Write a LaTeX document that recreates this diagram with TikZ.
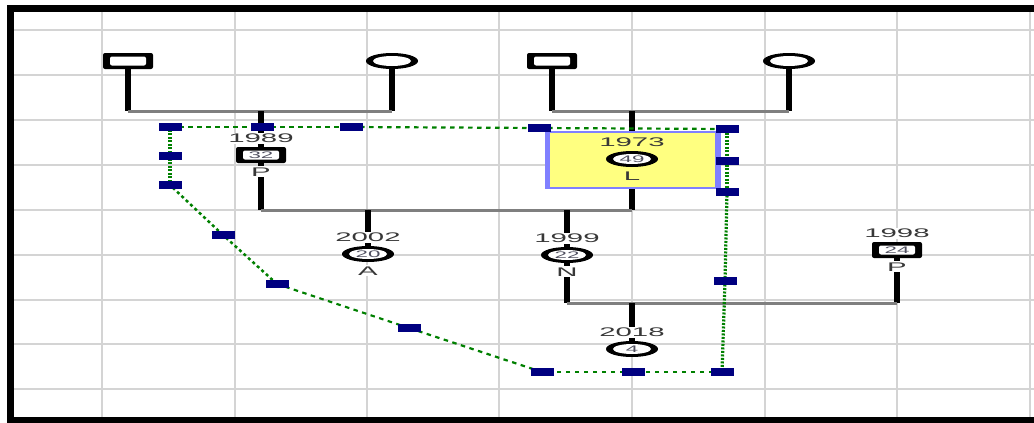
\documentclass[tikz,border=0pt]{standalone}
\usepackage{fontspec}
\setmainfont{Liberation Sans}
\newfontfamily\anchafont[FakeStretch=2.35]{Liberation Sans}
\usetikzlibrary{shapes.geometric, positioning, backgrounds}
\definecolor{GridGray}{HTML}{D4D4D4}
\definecolor{LineGray}{HTML}{7F7F7F}
\definecolor{SelGreen}{HTML}{008000}
\definecolor{HandleNavy}{HTML}{000080}
\definecolor{BoxYellow}{HTML}{FFFF80}
\definecolor{BoxBlue}{HTML}{8080FF}
\definecolor{LabelGray}{HTML}{383838}
\definecolor{NumGray}{HTML}{505060}

\begin{document}
\begin{tikzpicture}[
        x=1pt, y=-1pt,
        % Estilos para símbolos
        varon/.style={
                rectangle,
                rounded corners=2pt,
                fill=black,
                minimum width=50pt,
                minimum height=16pt,
                inner sep=0pt,
                font=\anchafont\fontsize{9.5}{10}\selectfont,
                text=NumGray,
                path picture={
                        \fill[white] ([xshift=7pt, yshift=3.5pt]path picture bounding box.south west)
                            rectangle ([xshift=-7pt, yshift=-3.5pt]path picture bounding box.north east);
                    }
            },
        mujer/.style={
                ellipse,
                fill=black,
                minimum width=52pt,
                minimum height=16pt,
                inner sep=0pt,
                font=\anchafont\fontsize{9.5}{10}\selectfont,
                text=NumGray,
                path picture={
                        \fill[white] (path picture bounding box.center) ellipse [x radius=19pt, y radius=5pt];
                    }
            },
        % Etiquetas
        anio/.style={
                font=\anchafont\fontsize{12.5}{14}\selectfont,
                text=LabelGray,
                fill=white,
                inner sep=1pt
            },
        % Caja resaltada
        resalte/.style={
                rectangle,
                fill=BoxBlue,
                minimum width=176pt,
                minimum height=58pt,
                inner sep=0pt,
                path picture={
                        \fill[BoxYellow] ([xshift=5pt, yshift=2pt]path picture bounding box.south west)
                            rectangle ([xshift=-6pt, yshift=-2pt]path picture bounding box.north east);
                    }
            },
        % Líneas
        tallo/.style={black, line width=5.5pt},
        union/.style={LineGray, line width=3pt},
        rejilla/.style={GridGray, line width=2.5pt},
        rejillah/.style={GridGray, line width=1.5pt},
        % Selección
        asa/.style={rectangle, fill=HandleNavy, minimum width=23pt, minimum height=8pt, inner sep=0pt},
        selh/.style={SelGreen, line width=2.2pt, dash pattern=on 4.5pt off 4.5pt},
        selv/.style={SelGreen, line width=3.2pt, dash pattern=on 2pt off 1.5pt},
        seld/.style={SelGreen, line width=2.5pt, dash pattern=on 3pt off 3pt}
    ]

    \useasboundingbox (0,0) rectangle (1034,423);

    % Padres
    \node[varon] (padre1) at (128,61) {};
    \node[mujer] (madre1) at (392,61) {};
    \node[varon] (padre2) at (552,61) {};
    \node[mujer] (madre2) at (789,61) {};

    % Caja resaltada
    \node[resalte] (caja) at (633,160) {};

    % Hijos
    \node[varon] (s1989) at (261,155) {32};
    \node[anio, above=3pt of s1989] (y1989) {1989};
    \node[anio, below=3pt of s1989] (t1989) {P};

    \node[mujer] (s1973) at (632,159) {49};
    \node[anio, fill=none, above=3pt of s1973] (y1973) {1973};
    \node[anio, fill=none, below=3pt of s1973] (t1973) {L};

    \node[mujer] (s2002) at (368,254) {20};
    \node[anio, above=3pt of s2002] (y2002) {2002};
    \node[anio, below=3pt of s2002] (t2002) {A};

    \node[mujer] (s1999) at (567,255) {22};
    \node[anio, above=3pt of s1999] (y1999) {1999};
    \node[anio, below=3pt of s1999] (t1999) {N};

    \node[varon] (s1998) at (897,250) {24};
    \node[anio, above=3pt of s1998] (y1998) {1998};
    \node[anio, below=3pt of s1998] (t1998) {P};

    \node[mujer] (s2018) at (632,349) {4};
    \node[anio, above=3pt of s2018] (y2018) {2018};

    % Puntos de unión
    \coordinate (u1) at (261,111);
    \coordinate (u2) at (632,111);
    \coordinate (u3) at (632,210);
    \coordinate (u4) at (632,303);

    \begin{scope}[on background layer]
        % Marco y rejilla
        \fill[white] (0,0) rectangle (1034,423);
        \fill[black] (7,5) rectangle (1034,423);
        \fill[white] (14,12) rectangle (1034,417);
        \foreach \x in {102,235,367,499,632,765,897,1030}
            \draw[rejilla] (\x,12) -- (\x,417);
        \foreach \y in {30,75,120,165,210,255,300,344,389}
            \draw[rejillah] (14,\y) -- (1034,\y);

        % Uniones
        \draw[tallo] (padre1) -- (padre1 |- u1);
        \draw[tallo] (madre1) -- (madre1 |- u1);
        \draw[union] (padre1 |- u1) -- (madre1 |- u1);
        \draw[tallo] (padre2) -- (padre2 |- u2);
        \draw[tallo] (madre2) -- (madre2 |- u2);
        \draw[union] (padre2 |- u2) -- (madre2 |- u2);

        \draw[tallo] (u1) -- (s1989) -- (s1989 |- u3);
        \draw[tallo] (u2) -- (s1973) -- (u3);
        \draw[union] (s1989 |- u3) -- (u3);

        \draw[tallo] (s2002 |- u3) -- (s2002);
        \draw[tallo] (s1999 |- u3) -- (s1999) -- (s1999 |- u4);
        \draw[tallo] (s1998) -- (s1998 |- u4);
        \draw[union] (s1999 |- u4) -- (s1998 |- u4);
        \draw[tallo] (u4) -- (s2018);
    \end{scope}

    % Asas de selección
    \foreach \i/\px/\py in {1/170/127, 2/262/127, 3/351/127, 4/539/128,
            5/727/129, 6/727/161, 7/727/192, 8/725/281,
            9/722/372, 10/633/372, 11/542/372, 12/409/328,
            13/277/284, 14/223/235, 15/170/185, 16/170/156}
        \node[asa] (h\i) at (\px,\py) {};

    \begin{scope}[on background layer]
        \foreach \a/\b/\e in {1/2/selh, 2/3/selh, 3/4/selh, 4/5/selh,
                5/6/selv, 6/7/selv, 7/8/selv, 8/9/selv,
                9/10/selh, 10/11/selh, 11/12/selh, 12/13/selh,
                13/14/seld, 14/15/seld, 15/16/selv, 16/1/selv}
            \draw[\e] (h\a.center) -- (h\b.center);
    \end{scope}

\end{tikzpicture}
\end{document}
